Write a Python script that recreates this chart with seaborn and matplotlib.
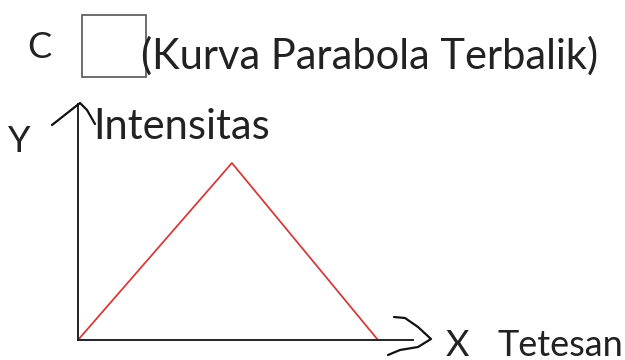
import numpy as np
import pandas as pd
import matplotlib
matplotlib.use("Agg")
import matplotlib.pyplot as plt
from matplotlib.patches import Rectangle
import seaborn as sns

# data for the triangle curve (tetesan vs intensitas)
tetesan = [0, 5.13, 10]
intensitas = [0, 10, 0]

title_text = "(Kurva Parabola Terbalik)"
label_c = "C"
y_name = "Y"
y_label = "Intensitas"
x_name = "X"
x_label = "Tetesan"

sns.set_style("white")
plt.rcParams["font.family"] = ["Lato", "DejaVu Sans"]

W, H = 625, 360
fig = plt.figure(figsize=(6.25, 3.6), dpi=100)

# axes placed so the axis lines sit where the sketch has them
x0, y0, x1, y1 = 78, 340, 413, 104
ax = fig.add_axes([x0 / W, 1 - y0 / H, (x1 - x0) / W, (y0 - y1) / H])

df = pd.DataFrame({"Tetesan": tetesan, "Intensitas": intensitas})
sns.lineplot(data=df, x="Tetesan", y="Intensitas", color="#d43c3c",
             linewidth=1.3, ax=ax, sort=False)

ax.set_xlim(0, 10 * (x1 - x0) / (378 - x0))
ax.set_ylim(0, 10 * (y0 - y1) / (y0 - 163))
ax.set_xticks([])
ax.set_yticks([])
ax.set_xlabel("")
ax.set_ylabel("")
for s in ["top", "right"]:
    ax.spines[s].set_visible(False)
for s in ["left", "bottom"]:
    ax.spines[s].set_color("#222222")
    ax.spines[s].set_linewidth(1.4)


def px(x, y):
    return x / W, 1 - y / H


# hand drawn arrow heads
yh = np.array([px(52, 125), px(80, 103), px(87, 110), px(95, 124)])
fig.add_artist(plt.Line2D(yh[:, 0], yh[:, 1], color="#111111", lw=1.6))
xh = np.array([px(394, 317), px(405, 318), px(418, 327), px(431, 339),
               px(418, 347), px(400, 350), px(388, 355)])
fig.add_artist(plt.Line2D(xh[:, 0], xh[:, 1], color="#111111", lw=1.6))

# empty answer box
fig.add_artist(Rectangle(px(82, 77), 64 / W, 62 / H, fill=False,
                         edgecolor="#555555", lw=1.2,
                         transform=fig.transFigure))

fs = 30
fs2 = 26
fig.text(*px(39, 48), label_c, fontsize=fs2, ha="center", va="center", color="#222222")
fig.text(*px(141, 56), title_text, fontsize=fs, ha="left", va="center", color="#222222")
fig.text(*px(19, 142), y_name, fontsize=fs2, ha="center", va="center", color="#222222")
fig.text(*px(93, 127), y_label, fontsize=fs, ha="left", va="center", color="#222222")
fig.text(*px(457, 345), x_name, fontsize=fs2, ha="center", va="center", color="#222222")
fig.text(*px(497, 345), x_label, fontsize=fs2, ha="left", va="center", color="#222222")

fig.savefig("out.png", dpi=100)
